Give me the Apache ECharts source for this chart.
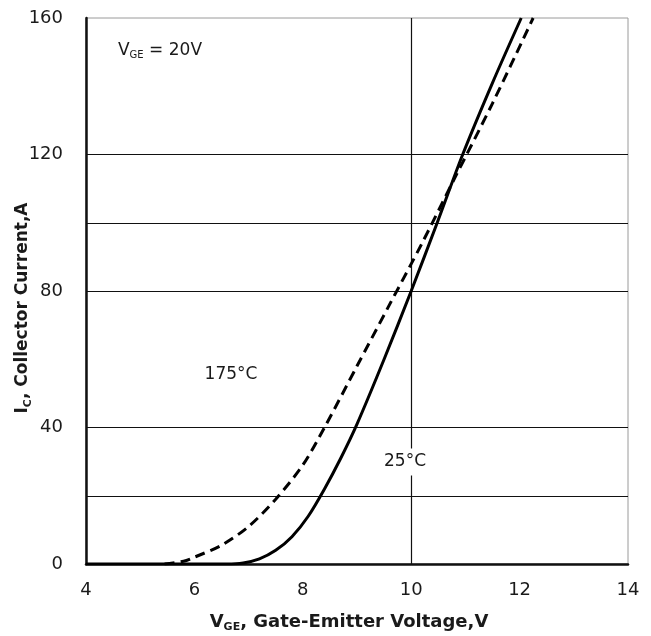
<!DOCTYPE html>
<html>
<head>
<meta charset="utf-8">
<script src="https://cdn.jsdelivr.net/npm/echarts@6/dist/echarts.min.js"></script>
<style>
  html, body { margin: 0; padding: 0; background: #fff; }
  #chart { width: 651px; height: 636px; }
</style>
</head>
<body>
<div id="chart"></div>
<script>
  // Gate-emitter voltage (V) vs collector current (A)
  var curve25 = [
    [4, 0], [6.6, 0], [6.9, 0.3], [7.2, 1.5], [7.5, 4], [7.8, 8], [8.1, 14],
    [8.4, 22], [8.7, 31], [9.0, 41], [9.5, 60], [10, 80], [10.48, 100],
    [10.95, 120], [11.5, 141], [12.03, 160]
  ];
  var curve175 = [
    [5.45, 0], [5.8, 0.8], [6.0, 2], [6.5, 5.5], [7.0, 11], [7.5, 19],
    [8.0, 29], [8.4, 40], [9.0, 58], [9.6, 76], [10.2, 94], [10.8, 113],
    [11.5, 135], [12.25, 160]
  ];
  var yGridLines = [20, 40, 80, 100, 120];
  var xGridLines = [10];

  var font = 'DejaVu Sans, Liberation Sans, sans-serif';
  var ink = '#1a1a1a';
  var chart = echarts.init(document.getElementById('chart'));

  var gridMarks = yGridLines.map(function (v) { return { yAxis: v }; })
    .concat(xGridLines.map(function (v) { return { xAxis: v }; }));

  chart.setOption({
    animation: false,
    backgroundColor: '#fff',
    grid: {
      left: 86, right: 23, top: 18, bottom: 72,
      show: true, borderColor: '#9a9a9a', borderWidth: 1
    },
    xAxis: {
      type: 'value', min: 4, max: 14, interval: 2,
      axisLine: { show: true, onZero: false, lineStyle: { color: '#111', width: 2.5 } },
      axisTick: { show: false },
      splitLine: { show: false },
      axisLabel: { color: ink, fontFamily: font, fontSize: 18, margin: 17 }
    },
    yAxis: {
      type: 'value', min: 0, max: 160, interval: 40,
      axisLine: { show: true, lineStyle: { color: '#111', width: 2.5 } },
      axisTick: { show: false },
      splitLine: { show: false },
      axisLabel: { color: ink, fontFamily: font, fontSize: 18, margin: 23 }
    },
    series: [
      {
        name: '25°C',
        type: 'line',
        data: curve25,
        smooth: 0.3,
        symbol: 'none',
        lineStyle: { color: '#000', width: 3 },
        z: 3,
        markLine: {
          silent: true,
          symbol: 'none',
          label: { show: false },
          lineStyle: { color: '#111', width: 1.2, type: 'solid' },
          data: gridMarks,
          z: 1
        }
      },
      {
        name: '175°C',
        type: 'line',
        data: curve175,
        smooth: 0.3,
        symbol: 'none',
        lineStyle: { color: '#000', width: 3, type: [10, 6] },
        z: 3
      }
    ],
    graphic: [
      {
        // y axis title
        type: 'text', x: 23, y: 308, rotation: Math.PI / 2, z: 10,
        style: {
          text: '{b|I}{s|C}{b|, Collector Current,A}',
          align: 'center', verticalAlign: 'middle',
          rich: {
            b: { fontFamily: font, fontSize: 17, fontWeight: 'bold', fill: ink },
            s: { fontFamily: font, fontSize: 11, fontWeight: 'bold', fill: ink, padding: [10, 0, 0, 0] }
          }
        }
      },
      {
        // x axis title
        type: 'text', x: 349, y: 622, z: 10,
        style: {
          text: '{b|V}{s|GE}{b|, Gate-Emitter Voltage,V}',
          align: 'center', verticalAlign: 'middle',
          rich: {
            b: { fontFamily: font, fontSize: 18, fontWeight: 'bold', fill: ink },
            s: { fontFamily: font, fontSize: 11, fontWeight: 'bold', fill: ink, padding: [10, 0, 0, 0] }
          }
        }
      },
      {
        type: 'text', x: 160, y: 51, z: 10,
        style: {
          text: '{n|V}{s|GE}{n| = 20V}',
          align: 'center', verticalAlign: 'middle',
          rich: {
            n: { fontFamily: font, fontSize: 17, fill: ink },
            s: { fontFamily: font, fontSize: 10, fill: ink, padding: [8, 0, 0, 0] }
          }
        }
      },
      {
        type: 'text', x: 231, y: 375, z: 10,
        style: {
          text: '175°C', fontFamily: font, fontSize: 17, fill: ink,
          align: 'center', verticalAlign: 'middle'
        }
      },
      {
        type: 'text', x: 405, y: 462, z: 10,
        style: {
          text: '25°C', fontFamily: font, fontSize: 17, fill: ink,
          align: 'center', verticalAlign: 'middle',
          backgroundColor: '#fff', padding: [2, 2, 8, 2]
        }
      }
    ]
  });
</script>
</body>
</html>
